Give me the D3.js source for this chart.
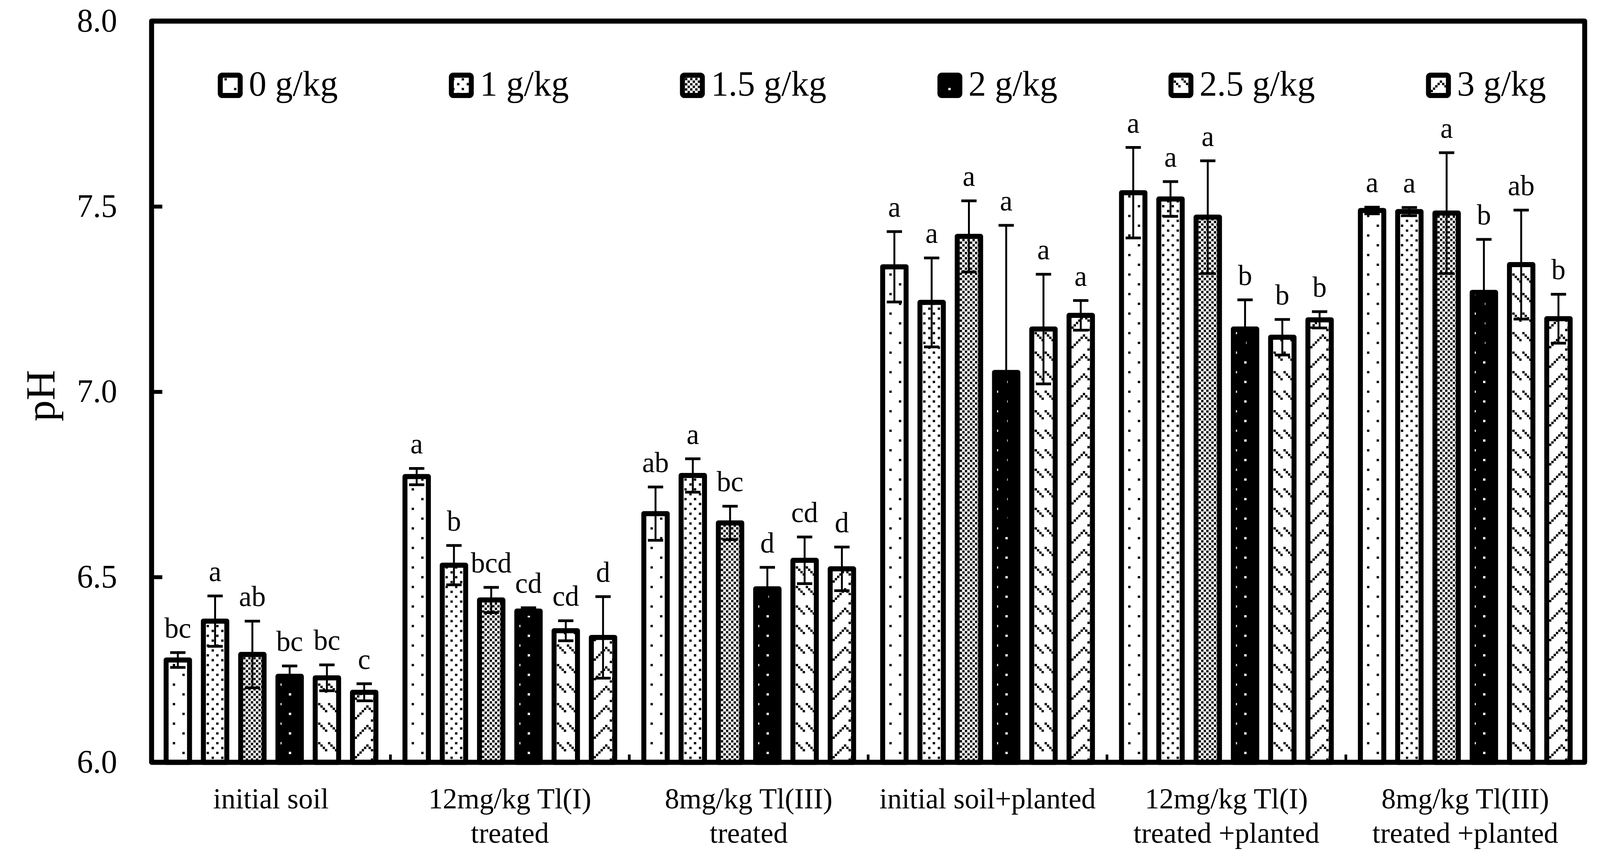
<!DOCTYPE html>
<html>
<head>
<meta charset="utf-8">
<script src="https://cdn.jsdelivr.net/npm/d3@7"></script>
<style>
  html, body { margin: 0; padding: 0; background: #fff; overflow: hidden; }
  svg { display: block; width: 100vw; height: 100vh; }
  text { font-family: "Liberation Serif", "DejaVu Serif", serif; fill: #000; }
</style>
</head>
<body>
<svg id="chart" viewBox="0 0 4180 2197" preserveAspectRatio="none"></svg>
<script>
// groups on the x axis (each label may wrap onto 2 lines)
var groups = [
  ["initial soil"],
  ["12mg/kg Tl(I)", "treated"],
  ["8mg/kg Tl(III)", "treated"],
  ["initial soil+planted"],
  ["12mg/kg Tl(I)", "treated +planted"],
  ["8mg/kg Tl(III)", "treated +planted"]
];
var series = ["0 g/kg", "1 g/kg", "1.5 g/kg", "2 g/kg", "2.5 g/kg", "3 g/kg"];

// pH means, one row per group, columns in series order
var meanPH = [
  [6.276, 6.381, 6.291, 6.232, 6.228, 6.189],
  [6.771, 6.532, 6.438, 6.408, 6.355, 6.337],
  [6.671, 6.774, 6.646, 6.468, 6.545, 6.522],
  [7.337, 7.241, 7.419, 7.052, 7.169, 7.206],
  [7.537, 7.520, 7.471, 7.169, 7.147, 7.194],
  [7.489, 7.486, 7.482, 7.268, 7.343, 7.197]
];
// error bar half-lengths
var errPH = [
  [0.020, 0.068, 0.090, 0.028, 0.035, 0.023],
  [0.022, 0.053, 0.034, 0.009, 0.027, 0.110],
  [0.072, 0.045, 0.045, 0.058, 0.063, 0.059],
  [0.095, 0.120, 0.096, 0.397, 0.148, 0.040],
  [0.122, 0.047, 0.152, 0.079, 0.048, 0.022],
  [0.009, 0.011, 0.163, 0.143, 0.147, 0.066]
];
// significance letters
var letters = [
  ["bc", "a", "ab", "bc", "bc", "c"],
  ["a", "b", "bcd", "cd", "cd", "d"],
  ["ab", "a", "bc", "d", "cd", "d"],
  ["a", "a", "a", "a", "a", "a"],
  ["a", "a", "a", "b", "b", "b"],
  ["a", "a", "a", "b", "ab", "b"]
];
var yTicks = [6.0, 6.5, 7.0, 7.5, 8.0];

var svg = d3.select("#chart");
var plotL = 396, plotR = 4140, plotT = 54, plotB = 1952;

var x0 = d3.scaleBand().domain(d3.range(groups.length)).range([plotL, plotR]).padding(0);
var x1 = d3.scaleBand().domain(d3.range(series.length)).range([0, x0.bandwidth()])
  .paddingInner(0.372).paddingOuter(0.39);
var y = d3.scaleLinear().domain([6, 8]).range([plotB, plotT]);

// fill patterns (pixel-like squares, aligned to each bar's left edge)
var defs = svg.append("defs");
function pattern(id, w, h, bg, fg, cells) {
  var p = defs.append("pattern").attr("id", id).attr("patternUnits", "userSpaceOnUse")
    .attr("width", w).attr("height", h);
  p.append("rect").attr("width", w).attr("height", h).attr("fill", bg);
  cells.forEach(function(c) {
    [-w, 0, w].forEach(function(dx) {
      [-h, 0, h].forEach(function(dy) {
        p.append("rect").attr("x", c[0] + dx).attr("y", c[1] + dy)
          .attr("width", c[2] || 6).attr("height", c[3] || 6).attr("fill", fg);
      });
    });
  });
}
pattern("pat0", 50, 50, "#fff", "#000", [[17.5, 0], [42.5, 25]]);
pattern("pat1", 25, 25, "#fff", "#000", [[8.5, 0], [21.5, 12.5]]);
pattern("pat2", 13.3, 13.3, "#fff", "#000", [[0, 0], [6.65, 6.65]]);
pattern("pat3", 50, 50, "#000", "#fff", [[6.5, 0, 3, 6], [28.5, 25]]);
pattern("pat4", 26, 50, "#fff", "#000", [[7.5, 0], [13.5, 6], [19.5, 12], [25.5, 18]]);
pattern("pat5", 48, 50, "#fff", "#000",
  [[0, 42], [6, 36], [12, 30], [18, 24], [24, 18], [30, 12], [36, 6], [42, 12], [48, 18]]);

// bars
var groupSel = svg.append("g").selectAll("g").data(groups).join("g");
var barSel = groupSel.selectAll("g")
  .data(function(d, gi) {
    return series.map(function(s, si) {
      return { gi: gi, si: si, v: meanPH[gi][si], e: errPH[gi][si], l: letters[gi][si] };
    });
  })
  .join("g")
  .attr("transform", function(d) { return "translate(" + (x0(d.gi) + x1(d.si)) + ",0)"; });

barSel.append("rect")
  .attr("x", 0)
  .attr("y", function(d) { return y(d.v); })
  .attr("width", x1.bandwidth())
  .attr("height", function(d) { return y(6) - y(d.v); })
  .attr("fill", function(d) { return "url(#pat" + d.si + ")"; })
  .attr("stroke", "#000")
  .attr("stroke-width", 13)
  .attr("stroke-linejoin", "round");

var cx = x1.bandwidth() / 2;
barSel.append("line")
  .attr("x1", cx).attr("x2", cx)
  .attr("y1", function(d) { return y(d.v - d.e); })
  .attr("y2", function(d) { return y(d.v + d.e); })
  .attr("stroke", "#000").attr("stroke-width", 5);
barSel.selectAll("line.cap")
  .data(function(d) { return [d.v - d.e, d.v + d.e]; })
  .join("line").attr("class", "cap")
  .attr("x1", cx - 20).attr("x2", cx + 20)
  .attr("y1", function(v) { return y(v); }).attr("y2", function(v) { return y(v); })
  .attr("stroke", "#000").attr("stroke-width", 7);

barSel.append("text")
  .attr("x", cx)
  .attr("y", function(d) { return y(d.v + d.e) - 38; })
  .attr("text-anchor", "middle")
  .attr("font-size", 74)
  .text(function(d) { return d.l; });

// y axis, inward ticks
var yAxis = svg.append("g").attr("transform", "translate(" + plotL + ",0)")
  .call(d3.axisLeft(y).tickValues(yTicks).tickFormat(d3.format(".1f"))
    .tickSizeInner(-28).tickSizeOuter(0).tickPadding(90));
yAxis.select(".domain").remove();
yAxis.selectAll(".tick line").attr("stroke", "#000").attr("stroke-width", 10);
yAxis.selectAll(".tick text").attr("font-size", 84)
  .attr("font-family", "Liberation Serif, serif").attr("fill", "#000");

svg.append("text")
  .attr("transform", "translate(142," + ((plotT + plotB) / 2 + 10) + ") rotate(-90)")
  .attr("text-anchor", "middle")
  .attr("font-size", 108)
  .text("pH");

// category boundary ticks
svg.append("g").selectAll("line")
  .data(d3.range(1, groups.length))
  .join("line")
  .attr("x1", function(i) { return x0(i); }).attr("x2", function(i) { return x0(i); })
  .attr("y1", plotB).attr("y2", plotB - 20)
  .attr("stroke", "#000").attr("stroke-width", 7);

// category labels
var catLabel = svg.append("g").selectAll("text").data(groups).join("text")
  .attr("text-anchor", "middle")
  .attr("font-size", 75);
catLabel.selectAll("tspan")
  .data(function(d, i) { return d.map(function(line, k) { return { i: i, k: k, t: line }; }); })
  .join("tspan")
  .attr("x", function(d) { return x0(d.i) + x0.bandwidth() / 2; })
  .attr("y", function(d) { return 2070 + d.k * 88; })
  .text(function(d) { return d.t; });

// frame
svg.append("rect")
  .attr("x", plotL).attr("y", plotT)
  .attr("width", plotR - plotL).attr("height", plotB - plotT)
  .attr("fill", "none").attr("stroke", "#000").attr("stroke-width", 13)
  .attr("stroke-linejoin", "round");

// legend
var legendStart = 569, legendEnd = 4039;
var items = svg.append("g").selectAll("g").data(series).join("g");
items.append("rect")
  .attr("x", 6.5).attr("y", 192.5).attr("width", 52).attr("height", 52)
  .attr("rx", 5)
  .attr("fill", function(d, i) { return "url(#pat" + i + ")"; })
  .attr("stroke", "#000").attr("stroke-width", 13);
items.append("text")
  .attr("x", 81).attr("y", 245)
  .attr("font-size", 92)
  .text(function(d) { return d; });
var widths = [];
items.each(function() {
  widths.push(81 + d3.select(this).select("text").node().getComputedTextLength());
});
var gap = (legendEnd - legendStart - d3.sum(widths)) / (series.length - 1);
var pos = legendStart;
items.attr("transform", function(d, i) {
  var t = "translate(" + pos + ",0)";
  pos += widths[i] + gap;
  return t;
});
</script>
</body>
</html>
